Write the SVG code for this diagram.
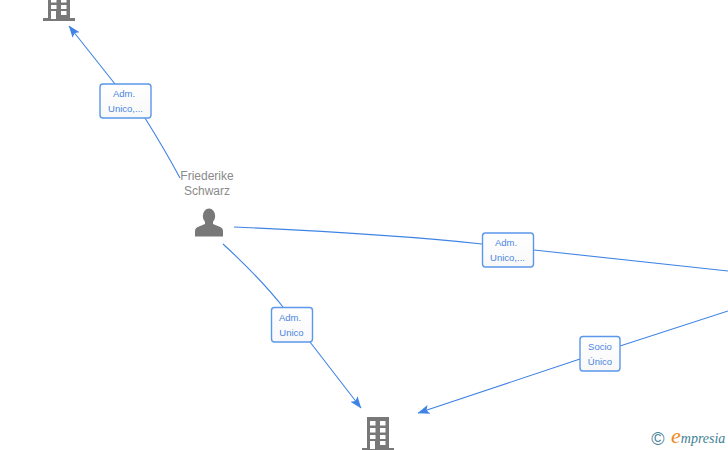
<svg xmlns="http://www.w3.org/2000/svg" width="728" height="450" viewBox="0 0 728 450">
<style>
.e{fill:none;stroke:#3f84e5;stroke-width:1.1}
.box{fill:url(#g);stroke:#5b97ea;stroke-width:1.4}
.l{font:9.5px "Liberation Sans",Arial,sans-serif;fill:#4a86e0;text-anchor:middle}
.n{font:12px "Liberation Sans",Arial,sans-serif;fill:#8a8a8a;text-anchor:middle}
.ic{fill:#787878}
.w{fill:#fff}
</style>
<defs>
<linearGradient id="g" x1="0" y1="0" x2="0" y2="1"><stop offset="0" stop-color="#fff"/><stop offset="1" stop-color="#f8f8f8"/></linearGradient>
<marker id="a" viewBox="0 0 12 12" refX="11.500" refY="6" markerWidth="12" markerHeight="12" markerUnits="userSpaceOnUse" orient="auto"><path d="M0 1.500L12 6L0 10.500L2.500 6Z" fill="#3f84e5"/></marker>
<g id="bld">
<rect x="-11" y="-17" width="22" height="32" class="ic"/>
<rect x="-16" y="14" width="32" height="3" class="ic"/>
<g class="w">
<rect x="-8" y="-13" width="5.500" height="4.500"/><rect x="2" y="-13" width="5.500" height="4.500"/>
<rect x="-8" y="-6" width="5.500" height="4.500"/><rect x="2" y="-6" width="5.500" height="4.500"/>
<rect x="-8" y="1" width="5.500" height="4"/><rect x="2" y="1" width="5.500" height="4"/>
<rect x="-8" y="7" width="5" height="8"/><rect x="2" y="7" width="5.500" height="4"/>
</g>
</g>
</defs>
<g id="connectors">
<path class="e" marker-end="url(#a)" d="M180 178Q165 150 145 118L115 84L69 26"/>
<path class="e" marker-end="url(#a)" d="M223 244Q260 278 283 307L310 342L361 408"/>
<path class="e" d="M234 227Q390 234 482 244M534 250L728 271"/>
<path class="e" marker-end="url(#a)" d="M728 311L620 346M580 359L418 413"/>
</g>
<g id="edge-label-1"><rect class="box" x="100" y="84" width="51" height="34" rx="3"/><text class="l" x="124" y="97">Adm.</text><text class="l" x="125.500" y="112">Unico,...</text></g>
<g id="edge-label-2"><rect class="box" x="271.500" y="307.500" width="41" height="34.500" rx="3"/><text class="l" x="290" y="321">Adm.</text><text class="l" x="291.500" y="336">Unico</text></g>
<g id="edge-label-3"><rect class="box" x="482.500" y="233" width="51" height="34" rx="3"/><text class="l" x="506" y="246">Adm.</text><text class="l" x="507.500" y="261">Unico,...</text></g>
<g id="edge-label-4"><rect class="box" x="580" y="336.500" width="40" height="34.500" rx="3"/><text class="l" x="600" y="350">Socio</text><text class="l" x="600" y="365">Único</text></g>
<g id="node-person">
<text class="n" x="207" y="180">Friederike</text><text class="n" x="207" y="195">Schwarz</text>
<ellipse class="ic" cx="209" cy="216" rx="6.200" ry="7.500"/>
<path class="ic" d="M195 236.500V231Q195 227.500 199 226.500L205 224V221H213V224L219 226.500Q223 227.500 223 231V236.500Z"/>
</g>
<use id="node-company-top" href="#bld" x="59" y="4"/>
<use id="node-company-bottom" href="#bld" x="378" y="434"/>
<g id="logo">
<text x="658" y="444.500" font-family="'Liberation Sans',sans-serif" font-size="18" fill="#4a8396" text-anchor="middle">©</text>
<text x="671" y="443" font-family="'Liberation Serif',serif" font-style="italic" font-size="14" fill="#3f7f96"><tspan font-size="22" fill="#ee8a1e">e</tspan>mpresia</text>
</g>
</svg>
